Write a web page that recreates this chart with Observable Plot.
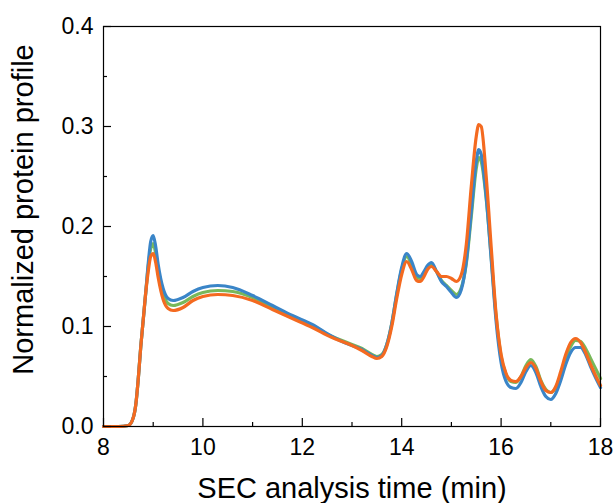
<!DOCTYPE html>
<html><head><meta charset="utf-8">
<script src="https://cdn.jsdelivr.net/npm/d3@7"></script>
<script src="https://cdn.jsdelivr.net/npm/@observablehq/plot@0.6"></script>
<style>body{margin:0;background:#fff}</style>
</head><body><div id="chart"></div>
<script>
const time = [8.0, 8.3, 8.5, 8.6, 8.65, 8.7, 8.75, 8.8, 8.85, 8.9, 8.95, 9.0, 9.05, 9.1, 9.2, 9.3, 9.4, 9.6, 9.8, 10.0, 10.3, 10.6, 11.0, 11.4, 11.8, 12.2, 12.6, 12.8, 13.0, 13.2, 13.4, 13.5, 13.6, 13.7, 13.8, 13.9, 14.0, 14.1, 14.2, 14.3, 14.37, 14.45, 14.52, 14.6, 14.7, 14.8, 14.9, 15.0, 15.1, 15.2, 15.3, 15.4, 15.5, 15.55, 15.6, 15.7, 15.8, 15.9, 16.0, 16.1, 16.2, 16.3, 16.4, 16.5, 16.6, 16.7, 16.8, 16.9, 17.0, 17.1, 17.2, 17.3, 17.4, 17.5, 17.6, 17.7, 17.8, 17.9, 18.0];
const blue = [0, 0, 0.001, 0.009, 0.022, 0.048, 0.080, 0.107, 0.134, 0.163, 0.185, 0.191, 0.180, 0.162, 0.138, 0.128, 0.126, 0.129, 0.135, 0.139, 0.141, 0.139, 0.131, 0.121, 0.111, 0.102, 0.090, 0.085, 0.081, 0.077, 0.071, 0.069, 0.071, 0.082, 0.103, 0.133, 0.159, 0.173, 0.165, 0.152, 0.150, 0.155, 0.161, 0.164, 0.155, 0.145, 0.140, 0.134, 0.129, 0.137, 0.165, 0.215, 0.265, 0.277, 0.272, 0.230, 0.168, 0.105, 0.064, 0.045, 0.039, 0.038, 0.044, 0.055, 0.061, 0.054, 0.040, 0.030, 0.027, 0.033, 0.046, 0.062, 0.074, 0.079, 0.079, 0.072, 0.060, 0.049, 0.039];
const green = [0, 0, 0.001, 0.009, 0.022, 0.048, 0.080, 0.107, 0.134, 0.160, 0.178, 0.183, 0.173, 0.157, 0.133, 0.123, 0.121, 0.124, 0.130, 0.134, 0.136, 0.135, 0.129, 0.119, 0.109, 0.101, 0.090, 0.086, 0.082, 0.078, 0.072, 0.070, 0.072, 0.082, 0.103, 0.132, 0.157, 0.170, 0.162, 0.150, 0.148, 0.153, 0.159, 0.162, 0.155, 0.146, 0.141, 0.136, 0.132, 0.139, 0.163, 0.210, 0.258, 0.269, 0.265, 0.228, 0.170, 0.110, 0.070, 0.052, 0.045, 0.044, 0.050, 0.061, 0.067, 0.060, 0.046, 0.037, 0.034, 0.039, 0.052, 0.068, 0.080, 0.086, 0.085, 0.078, 0.068, 0.058, 0.048];
const orange = [0, 0, 0.001, 0.009, 0.022, 0.048, 0.080, 0.107, 0.134, 0.155, 0.170, 0.173, 0.164, 0.149, 0.127, 0.118, 0.116, 0.119, 0.126, 0.130, 0.132, 0.131, 0.126, 0.117, 0.108, 0.099, 0.089, 0.085, 0.081, 0.076, 0.070, 0.068, 0.070, 0.080, 0.100, 0.128, 0.152, 0.165, 0.157, 0.146, 0.145, 0.150, 0.157, 0.160, 0.155, 0.150, 0.150, 0.148, 0.145, 0.152, 0.182, 0.240, 0.290, 0.302, 0.300, 0.250, 0.180, 0.112, 0.072, 0.053, 0.046, 0.045, 0.050, 0.059, 0.064, 0.058, 0.045, 0.036, 0.034, 0.040, 0.055, 0.072, 0.084, 0.088, 0.084, 0.074, 0.062, 0.051, 0.041];

const seriesNames = ["Series 2", "Series 1", "Series 3"];
const seriesValues = [green, blue, orange];
const seriesColors = ["#78b85a", "#3a85c8", "#f46a20"];

const xTicks = [8, 10, 12, 14, 16, 18];
const xMinor = [9, 11, 13, 15, 17];
const yTicks = [0, 0.1, 0.2, 0.3, 0.4];
const yMinor = [0.05, 0.15, 0.25, 0.35];
const xTitle = "SEC analysis time (min)";
const yTitle = "Normalized protein profile";

const rows = [];
seriesNames.forEach((s, k) => {
  time.forEach((t, i) => rows.push({series: s, t, v: seriesValues[k][i]}));
});

const chart = Plot.plot({
  width: 613,
  height: 503,
  marginLeft: 103,
  marginRight: 13,
  marginTop: 26,
  marginBottom: 77,
  x: {domain: [8, 18]},
  y: {domain: [0, 0.4]},
  color: {type: "ordinal", domain: seriesNames, range: seriesColors},
  style: {fontFamily: "'Liberation Sans', Arial, sans-serif", fontSize: "23px", color: "black", background: "white"},
  marks: [
    Plot.lineY(rows, {x: "t", y: "v", z: "series", stroke: "series", strokeWidth: 3.2, curve: "monotone-x"}),
    Plot.frame({stroke: "black", strokeWidth: 1.2}),
    Plot.axisX({ticks: xTicks, tickSize: 0, tickPadding: 12, tickFormat: d => String(d), label: null, fontSize: 23}),
    Plot.axisX({ticks: xTicks, tickSize: -8, fill: "none", label: null, strokeWidth: 1.2}),
    Plot.axisX({ticks: xMinor, tickSize: -4, fill: "none", label: null, strokeWidth: 1.2}),
    Plot.axisY({ticks: yTicks, tickSize: 0, tickPadding: 10, tickFormat: d => d.toFixed(1), label: null, fontSize: 23}),
    Plot.axisY({ticks: yTicks, tickSize: -8, fill: "none", label: null, strokeWidth: 1.2}),
    Plot.axisY({ticks: yMinor, tickSize: -4, fill: "none", label: null, strokeWidth: 1.2}),
    Plot.text([xTitle], {frameAnchor: "bottom", textAnchor: "middle", dy: 62, fontSize: 29, lineAnchor: "middle"}),
    Plot.text([yTitle], {frameAnchor: "left", textAnchor: "middle", rotate: -90, dx: -80, dy: -17, fontSize: 29, lineAnchor: "middle"})
  ]
});
document.getElementById("chart").append(chart);
</script>
</body></html>
